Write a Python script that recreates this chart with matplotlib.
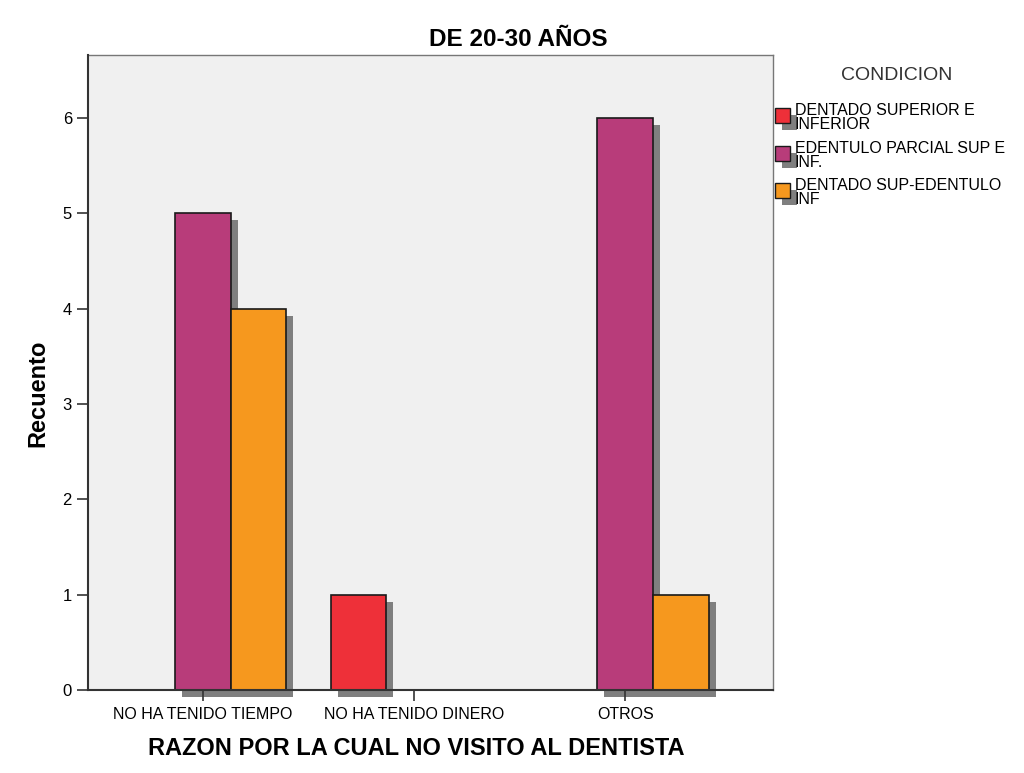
import matplotlib
matplotlib.use("Agg")
import matplotlib.pyplot as plt
import matplotlib.transforms as mtransforms
from matplotlib.patches import Rectangle
import numpy as np

plt.rcParams['font.family'] = ['Liberation Sans', 'DejaVu Sans']

# data
categories = ['NO HA TENIDO TIEMPO', 'NO HA TENIDO DINERO', 'OTROS']
series_names = ['DENTADO SUPERIOR E\nINFERIOR', 'EDENTULO PARCIAL SUP E\nINF.', 'DENTADO SUP-EDENTULO\nINF']
dentado = [0, 1, 0]
edentulo_parcial = [5, 0, 6]
dentado_sup_edentulo = [4, 0, 1]
colors = ['#EE3039', '#B83C7A', '#F6981E']

values = [dentado, edentulo_parcial, dentado_sup_edentulo]
offsets = [-1, 0, 1]
bar_w = 0.263

fig = plt.figure(figsize=(10.24, 7.73), dpi=100)
ax = fig.add_axes([0.0859, 0.1074, 0.669, 0.8214])
ax.set_facecolor('#F0F0F0')

# gray drop shadow behind each bar, offset a few pixels right/down
shadow = mtransforms.offset_copy(ax.transData, fig, x=7, y=-7, units='dots')
x = np.arange(len(categories))
for vals, off, col in zip(values, offsets, colors):
    for xi, v in zip(x, vals):
        if v == 0:
            continue
        ax.bar(xi + off * bar_w, v, width=bar_w, color='#7F7F7F', linewidth=0,
               transform=shadow, clip_on=False, zorder=1)
        ax.bar(xi + off * bar_w, v, width=bar_w, color=col, edgecolor='#1A1A1A',
               linewidth=1.2, zorder=2)

ax.set_xlim(-0.545, 2.70)
ax.set_ylim(0, 6.66)
ax.set_xticks(x)
ax.set_xticklabels(categories, fontsize=11.5)
ax.set_yticks(range(0, 7))
ax.tick_params(axis='y', labelsize=12, length=8, width=1.2, color='#333333')
ax.tick_params(axis='x', length=8, width=1.2, color='#333333', pad=4)

for s in ['left', 'bottom']:
    ax.spines[s].set_linewidth(1.5)
    ax.spines[s].set_color('#333333')
    ax.spines[s].set_zorder(5)
for s in ['top', 'right']:
    ax.spines[s].set_linewidth(1.0)
    ax.spines[s].set_color('#777777')

ax.set_ylabel('Recuento', fontsize=17, fontweight='bold')
ax.yaxis.set_label_coords(-0.056, 0.468)
ax.set_xlabel('RAZON POR LA CUAL NO VISITO AL DENTISTA', fontsize=17, fontweight='bold')
ax.xaxis.set_label_coords(0.479, -0.074)
fig.text(518 / 1024, 1 - 40 / 773, 'DE 20-30 AÑOS', fontsize=17.5, fontweight='bold', ha='center', va='center')

# legend drawn by hand, SPSS style
W, H = 1024, 773
fig.text(897 / W, 1 - 76 / H, 'CONDICION', fontsize=14, color='#333333', ha='center', va='center')
sq_tops = [108, 146, 183]
for top, name, col in zip(sq_tops, series_names, colors):
    fig.add_artist(Rectangle(((775 + 7) / W, 1 - (top + 15 + 7) / H), 15 / W, 15 / H,
                             transform=fig.transFigure, color='#7F7F7F', linewidth=0))
    fig.add_artist(Rectangle((775 / W, 1 - (top + 15) / H), 15 / W, 15 / H,
                             transform=fig.transFigure, facecolor=col, edgecolor='#1A1A1A', linewidth=1))
    fig.text(795 / W, 1 - (top - 5) / H, name, fontsize=11.5, ha='left', va='top', linespacing=0.93)

fig.savefig('out.png', dpi=100)
